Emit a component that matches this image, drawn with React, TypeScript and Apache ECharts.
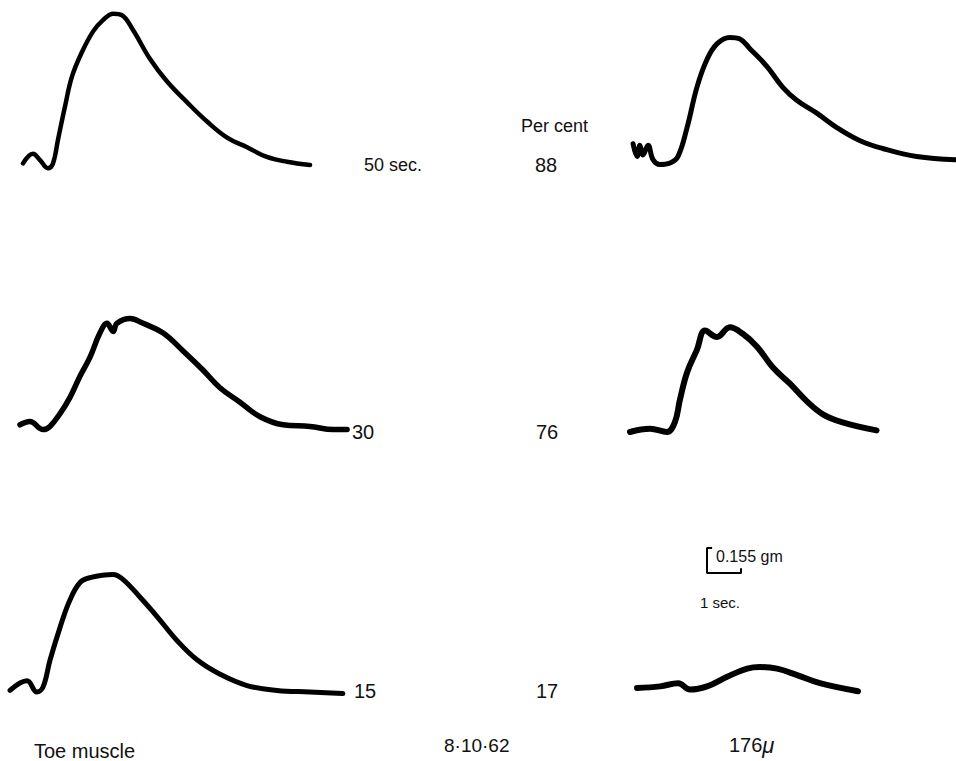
import React, { useEffect, useRef } from "react";
import * as echarts from "echarts";

// Twitch traces: [time (s), tension (gm)]
const trace50s: number[][] = [
  [0.09, 0.01], [0.38, 0.07], [0.59, 0.03], [0.82, -0.02], [0.97, 0.01], [1.12, 0.16],
  [1.32, 0.36], [1.53, 0.55], [1.82, 0.7], [2.15, 0.83], [2.44, 0.9], [2.74, 0.94],
  [3.0, 0.93], [3.32, 0.84], [3.82, 0.66], [4.32, 0.52], [4.91, 0.39], [5.5, 0.27],
  [6.09, 0.17], [6.68, 0.11], [7.26, 0.05], [7.85, 0.02], [8.53, 0.0],
];
const trace88pc: number[][] = [
  [0.09, 0.12], [0.21, 0.04], [0.29, 0.11], [0.38, 0.05], [0.53, 0.11], [0.68, 0.02],
  [0.88, -0.01], [1.18, 0.0], [1.41, 0.04], [1.68, 0.22], [1.97, 0.47], [2.26, 0.64],
  [2.56, 0.74], [2.94, 0.78], [3.24, 0.77], [3.53, 0.71], [4.03, 0.6], [4.5, 0.47],
  [4.91, 0.39], [5.5, 0.31], [6.09, 0.22], [6.76, 0.14], [7.44, 0.09], [8.44, 0.04], [9.59, 0.02],
];
const trace30s: number[][] = [
  [0.0, 0.02], [0.29, 0.04], [0.68, -0.01], [0.88, 0.01], [1.18, 0.09], [1.47, 0.19],
  [1.76, 0.32], [2.06, 0.44], [2.35, 0.59], [2.56, 0.65], [2.74, 0.6], [2.85, 0.65],
  [3.24, 0.68], [3.62, 0.65], [4.21, 0.59], [4.79, 0.48], [5.38, 0.36], [5.88, 0.25],
  [6.47, 0.16], [7.06, 0.07], [7.74, 0.02], [8.53, 0.01], [9.21, -0.01], [9.62, -0.01],
];
const trace76pc: number[][] = [
  [0.0, 0.0], [0.59, 0.02], [1.09, 0.0], [1.32, 0.06], [1.47, 0.2], [1.68, 0.37],
  [1.97, 0.51], [2.21, 0.63], [2.56, 0.59], [2.94, 0.65], [3.32, 0.61], [3.74, 0.53],
  [4.21, 0.4], [4.71, 0.3], [5.21, 0.19], [5.68, 0.11], [6.26, 0.06], [7.26, 0.01],
];
const trace15s: number[][] = [
  [0.0, 0.01], [0.5, 0.07], [0.79, 0.0], [0.97, 0.03], [1.18, 0.2], [1.47, 0.4],
  [1.76, 0.57], [2.06, 0.68], [2.35, 0.71], [3.03, 0.73], [3.32, 0.7], [3.82, 0.59],
  [4.32, 0.47], [4.91, 0.32], [5.5, 0.2], [6.18, 0.11], [6.97, 0.04], [7.85, 0.01],
  [8.82, 0.0], [9.79, -0.01],
];
const trace17pc: number[][] = [
  [0.0, 0.0], [0.68, 0.01], [1.21, 0.03], [1.56, -0.01], [2.06, 0.01], [2.65, 0.07],
  [3.24, 0.12], [3.62, 0.13], [4.12, 0.12], [4.71, 0.08], [5.38, 0.03], [6.5, -0.02],
];
// Calibration: 1 sec by 0.155 gm
const scaleBar: number[][] = [[0.15, 0.155], [0, 0.155], [0, 0], [1, 0], [1, 0.03]];

const leftLabels = ["50 sec.", "30", "15"];
const rightLabels = ["88", "76", "17"];

const SEC_PX = 34;
const GM_PX = 161;
const Y_MIN = -0.1;
const Y_MAX = 1.0;

const panels = [
  { data: trace50s, left: 20, base: 165, tMax: 9.6, lw: 4.5 },
  { data: trace88pc, left: 630, base: 163, tMax: 9.6, lw: 5 },
  { data: trace30s, left: 20, base: 428, tMax: 9.8, lw: 5.5 },
  { data: trace76pc, left: 630, base: 432, tMax: 9.6, lw: 6 },
  { data: trace15s, left: 10, base: 692, tMax: 10, lw: 5 },
  { data: trace17pc, left: 637, base: 688, tMax: 9.0, lw: 6 },
];

const FONT = "Liberation Sans, Arial, sans-serif";

export default function App() {
  const ref = useRef<HTMLDivElement>(null);
  useEffect(() => {
    document.body.style.margin = "0";
    if (!ref.current) return;
    const chart = echarts.init(ref.current, null, { renderer: "svg" });

    const grids: any[] = [];
    const xAxes: any[] = [];
    const yAxes: any[] = [];
    const series: any[] = [];
    panels.forEach((p, i) => {
      grids.push({
        left: p.left,
        top: p.base - Y_MAX * GM_PX,
        width: p.tMax * SEC_PX,
        height: (Y_MAX - Y_MIN) * GM_PX,
        containLabel: false,
      });
      xAxes.push({ gridIndex: i, type: "value", min: 0, max: p.tMax, show: false });
      yAxes.push({ gridIndex: i, type: "value", min: Y_MIN, max: Y_MAX, show: false });
      series.push({
        type: "line",
        xAxisIndex: i,
        yAxisIndex: i,
        data: p.data,
        symbol: "none",
        smooth: 0.4,
        silent: true,
        clip: false,
        lineStyle: { color: "#000", width: p.lw, cap: "round", join: "round" },
      });
    });
    // calibration bar grid
    const gi = panels.length;
    grids.push({ left: 707, top: 548, width: SEC_PX, height: 0.155 * GM_PX });
    xAxes.push({ gridIndex: gi, type: "value", min: 0, max: 1, show: false });
    yAxes.push({ gridIndex: gi, type: "value", min: 0, max: 0.155, show: false });
    series.push({
      type: "line",
      xAxisIndex: gi,
      yAxisIndex: gi,
      data: scaleBar,
      symbol: "none",
      silent: true,
      clip: false,
      lineStyle: { color: "#000", width: 2 },
    });

    const txt = (text: string, x: number, y: number, size = 17, extra: any = {}) => ({
      type: "text",
      x,
      y,
      silent: true,
      style: {
        text,
        fill: "#111",
        font: `${size}px ${FONT}`,
        fontSize: size,
        fontFamily: FONT,
        textVerticalAlign: "middle",
        verticalAlign: "middle",
        ...extra,
      },
    });

    const graphics: any[] = [
      txt(leftLabels[0], 364, 165, 18, { letterSpacing: 1.5 }),
      txt(leftLabels[1], 352, 432, 20, { letterSpacing: 1.5 }),
      txt(leftLabels[2], 354, 691, 20, { letterSpacing: 1.5 }),
      txt("Per cent", 521, 126, 18),
      txt(rightLabels[0], 535, 165, 20, { letterSpacing: 1.5 }),
      txt(rightLabels[1], 536, 432, 20, { letterSpacing: 1.5 }),
      txt(rightLabels[2], 536, 691, 20, { letterSpacing: 1.5 }),
      txt("0.155 gm", 716, 556, 16),
      txt("1 sec.", 700, 602, 15, { letterSpacing: 0.5 }),
      txt("Toe muscle", 34, 751, 20, { letterSpacing: 0.5 }),
      txt("8·10·62", 444, 745, 19, { letterSpacing: 0.5 }),
      {
        type: "text",
        x: 729,
        y: 745,
        silent: true,
        style: {
          text: "176{m|μ}",
          fill: "#111",
          font: `20px ${FONT}`,
          fontSize: 20,
          fontFamily: FONT,
          textVerticalAlign: "middle",
          verticalAlign: "middle",
          rich: { m: { fontSize: 22, fontStyle: "italic", fontFamily: FONT, fill: "#111" } },
        },
      },
    ];

    chart.setOption({
      animation: false,
      backgroundColor: "#fff",
      grid: grids,
      xAxis: xAxes,
      yAxis: yAxes,
      series,
      graphic: graphics,
    });
    return () => chart.dispose();
  }, []);
  return <div ref={ref} style={{ width: 956, height: 761 }} />;
}
